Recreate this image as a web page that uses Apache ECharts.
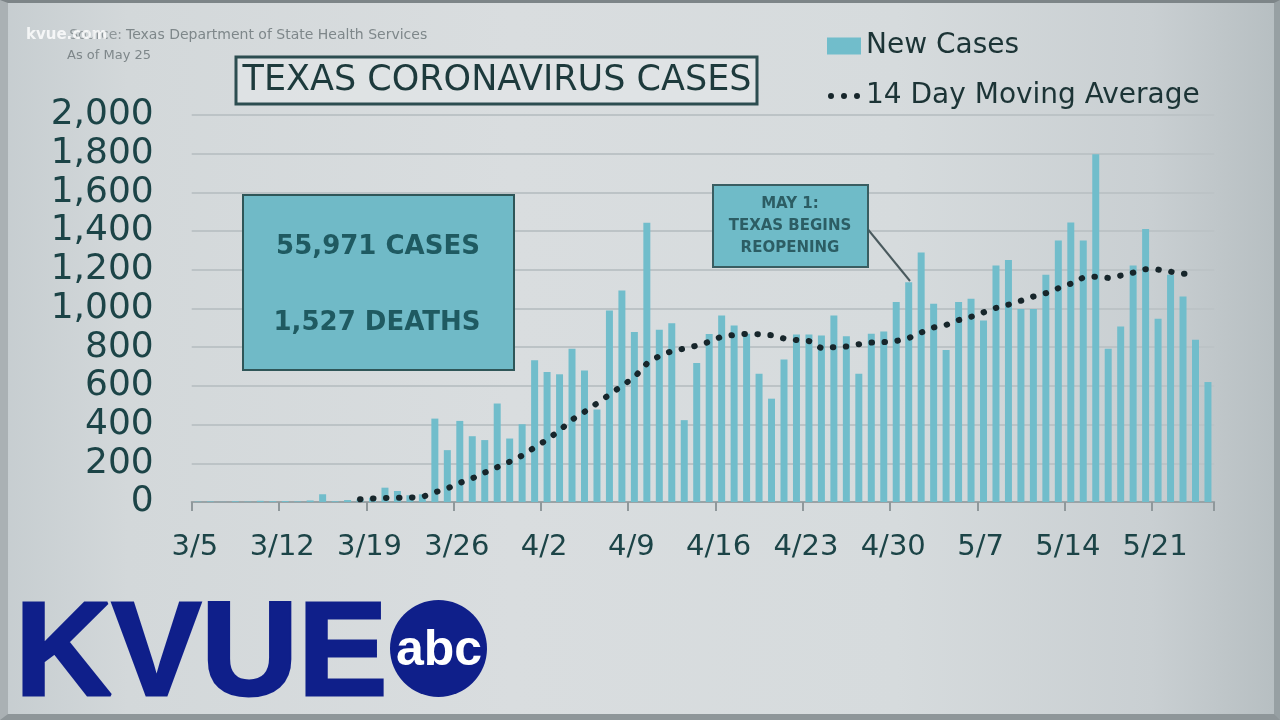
<!DOCTYPE html>
<html>
<head>
<meta charset="utf-8">
<script src="https://cdn.jsdelivr.net/npm/echarts/dist/echarts.min.js"></script>
<style>
  html, body { margin: 0; padding: 0; }
  body {
    width: 1280px; height: 720px; overflow: hidden;
    background: linear-gradient(90deg, #c6cdd0 0%, #d3d8da 10%, #d9dddf 40%, #d6dbdd 70%, #c9cfd2 90%, #b6bec1 100%);
  }
  #frame {
    position: absolute; left: 0; top: 0; width: 1280px; height: 720px;
    box-sizing: border-box;
    border-top: 3px solid #7d8588; border-left: 8px solid #aab1b4;
    border-right: 6px solid #97a0a3; border-bottom: 6px solid #8e9699;
  }
  #chart { position: absolute; left: 0; top: 0; width: 1280px; height: 720px; }
</style>
</head>
<body>
<div id="frame"></div>
<div id="chart"></div>
<script>
// ---- data ----
const dates = [
  '3/5','3/6','3/7','3/8','3/9','3/10','3/11','3/12','3/13','3/14','3/15','3/16','3/17','3/18','3/19','3/20',
  '3/21','3/22','3/23','3/24','3/25','3/26','3/27','3/28','3/29','3/30','3/31',
  '4/1','4/2','4/3','4/4','4/5','4/6','4/7','4/8','4/9','4/10','4/11','4/12','4/13','4/14','4/15','4/16',
  '4/17','4/18','4/19','4/20','4/21','4/22','4/23','4/24','4/25','4/26','4/27','4/28','4/29','4/30',
  '5/1','5/2','5/3','5/4','5/5','5/6','5/7','5/8','5/9','5/10','5/11','5/12','5/13','5/14','5/15','5/16',
  '5/17','5/18','5/19','5/20','5/21','5/22','5/23','5/24','5/25'
];
const newCases = [
  2, 3, 1, 4, 2, 6, 4, 5, 3, 8, 40, 4, 10, 15, 22, 74,
  57, 35, 40, 431, 268, 419, 340, 320, 509, 328, 402,
  732, 672, 660, 792, 680, 478, 990, 1093, 878, 1443, 890, 924, 423, 718, 868, 964,
  912, 869, 663, 534, 737, 866, 866, 861, 964, 856, 663, 869, 881, 1033,
  1136, 1290, 1024, 785, 1033, 1050, 938, 1222, 1251, 998, 998, 1175, 1351, 1445, 1351, 1797,
  792, 907, 1222, 1411, 947, 1175, 1062, 839, 620
];
const movingAvg = [
  null, null, null, null, null, null, null, null, null, null, null, null, null, 14, 18, 21,
  22, 23, 26, 50, 70, 99, 122, 152, 180, 208, 240,
  282, 322, 370, 425, 466, 510, 555, 600, 645, 715, 755, 780, 793, 808, 828, 855,
  863, 869, 867, 862, 845, 837, 832, 795, 800, 804, 815, 824, 826, 832,
  847, 876, 902, 915, 940, 957, 980, 1003, 1020, 1040, 1062, 1079, 1105, 1128, 1160, 1165,
  1158, 1170, 1185, 1203, 1201, 1190, 1180, 1175, null
];
const yTickLabels = ['0','200','400','600','800','1,000','1,200','1,400','1,600','1,800','2,000'];
const seriesNames = ['New Cases', '14 Day Moving Average'];
const titleText = 'TEXAS CORONAVIRUS CASES';
const statLines = ['55,971 CASES', '1,527 DEATHS'];
const noteLines = ['MAY 1:', 'TEXAS BEGINS', 'REOPENING'];

const FONT = '"DejaVu Sans", "Liberation Sans", sans-serif';
const TEAL_TEXT = '#1c4447';
const BLUE = '#0f1f8a';
const DOT = '#17262b';

// three-dot legend icon (M points pin the box to 34x17)
const dotsIcon = 'path://M0,0L0,0M34,17L34,17' +
  'M1,8.5a3,3 0 1,0 6,0a3,3 0 1,0 -6,0' +
  'M14,8.5a3,3 0 1,0 6,0a3,3 0 1,0 -6,0' +
  'M27,8.5a3,3 0 1,0 6,0a3,3 0 1,0 -6,0Z';

const chart = echarts.init(document.getElementById('chart'), null, { renderer: 'canvas' });
chart.setOption({
  backgroundColor: 'transparent',
  animation: false,
  grid: { left: 191.7, right: 65.8, top: 115, bottom: 218, containLabel: false },
  legend: {
    data: [
      { name: seriesNames[0], icon: 'rect' },
      { name: seriesNames[1], icon: dotsIcon, itemStyle: { color: DOT, borderWidth: 0 } }
    ],
    orient: 'vertical',
    left: 827, top: 32,
    itemWidth: 34, itemHeight: 17, itemGap: 22,
    padding: 0,
    textStyle: { fontFamily: FONT, fontSize: 28, color: '#1c3436' }
  },
  xAxis: {
    type: 'category',
    data: dates,
    boundaryGap: true,
    axisLine: { show: true, lineStyle: { color: '#9aa3a6', width: 2 } },
    axisTick: {
      show: true, alignWithLabel: false, length: 9,
      interval: function (i) { return i % 7 === 0; },
      lineStyle: { color: '#8f989b', width: 2 }
    },
    axisLabel: {
      interval: function (i) { return i % 7 === 0; },
      fontFamily: FONT, fontSize: 29, color: TEAL_TEXT,
      margin: 31, padding: [0, 6, 0, 0]
    },
    splitLine: { show: false }
  },
  yAxis: {
    type: 'value',
    min: 0, max: 2000, interval: 200,
    axisLine: { show: false },
    axisTick: { show: false },
    axisLabel: {
      fontFamily: FONT, fontSize: 36, color: TEAL_TEXT, margin: 38,
      formatter: function (v) { return yTickLabels[Math.round(v / 200)]; }
    },
    splitLine: { lineStyle: { color: '#bcc3c6', width: 2 } }
  },
  series: [
    {
      name: seriesNames[0], type: 'bar', data: newCases,
      barWidth: '56%',
      itemStyle: { color: '#71bdcb' },
      z: 2
    },
    {
      name: seriesNames[1], type: 'line', data: movingAvg,
      symbol: 'none', connectNulls: false,
      lineStyle: { color: DOT, width: 6, type: [0.5, 12.5], cap: 'round' },
      itemStyle: { color: DOT },
      z: 3
    }
  ],
  graphic: [
    // source lines
    { type: 'text', x: 122, y: 35, z: 50, style: { text: 'Source:', font: '14px ' + FONT, fill: '#8d9598', align: 'right', verticalAlign: 'middle' } },
    { type: 'text', x: 26, y: 35, z: 51, style: { text: 'kvue.com', font: 'bold 15px ' + FONT, fill: 'rgba(255,255,255,0.8)', align: 'left', verticalAlign: 'middle' } },
    { type: 'text', x: 126, y: 35, z: 50, style: { text: 'Texas Department of State Health Services', font: '14px ' + FONT, fill: '#7e878a', align: 'left', verticalAlign: 'middle' } },
    { type: 'text', x: 67, y: 56, z: 50, style: { text: 'As of May 25', font: '13px ' + FONT, fill: '#7e878a', align: 'left', verticalAlign: 'middle' } },
    // title box
    { type: 'rect', z: 50, shape: { x: 236, y: 57, width: 521, height: 47 }, style: { fill: 'rgba(228,232,233,0.6)', stroke: '#2c4d50', lineWidth: 3 } },
    { type: 'text', x: 497, y: 81, z: 51, style: { text: titleText, font: '35px ' + FONT, fill: '#1d3a3c', align: 'center', verticalAlign: 'middle' } },
    // stats box
    { type: 'rect', z: 50, shape: { x: 243, y: 195, width: 271, height: 175 }, style: { fill: '#70bac7', stroke: '#2f5658', lineWidth: 2 } },
    { type: 'text', x: 378, y: 247, z: 51, style: { text: statLines[0], font: 'bold 26px ' + FONT, fill: '#1f5a61', align: 'center', verticalAlign: 'middle' } },
    { type: 'text', x: 377, y: 323, z: 51, style: { text: statLines[1], font: 'bold 26px ' + FONT, fill: '#1f5a61', align: 'center', verticalAlign: 'middle' } },
    // annotation
    { type: 'line', z: 49, shape: { x1: 866, y1: 227, x2: 910, y2: 281 }, style: { stroke: '#4a5a5e', lineWidth: 2 } },
    { type: 'rect', z: 50, shape: { x: 713, y: 185, width: 155, height: 82 }, style: { fill: '#6fbbc8', stroke: '#3a5d61', lineWidth: 2 } },
    { type: 'text', x: 790, y: 204, z: 51, style: { text: noteLines[0], font: 'bold 15px ' + FONT, fill: '#2c5d64', align: 'center', verticalAlign: 'middle' } },
    { type: 'text', x: 790, y: 226, z: 51, style: { text: noteLines[1], font: 'bold 15px ' + FONT, fill: '#2c5d64', align: 'center', verticalAlign: 'middle' } },
    { type: 'text', x: 790, y: 248, z: 51, style: { text: noteLines[2], font: 'bold 15px ' + FONT, fill: '#2c5d64', align: 'center', verticalAlign: 'middle' } },
    // KVUE logo
    { type: 'text', x: 15, y: 658, z: 60, style: { text: 'KVUE', font: 'bold 134px "Liberation Sans", sans-serif', fill: BLUE, stroke: BLUE, lineWidth: 3, align: 'left', verticalAlign: 'middle' } },
    { type: 'circle', z: 60, shape: { cx: 438.5, cy: 648.5, r: 48.5 }, style: { fill: BLUE } },
    { type: 'text', x: 439, y: 651, z: 61, style: { text: 'abc', font: 'bold 50px "Liberation Sans", sans-serif', fill: '#ffffff', align: 'center', verticalAlign: 'middle' } }
  ]
});
</script>
</body>
</html>
